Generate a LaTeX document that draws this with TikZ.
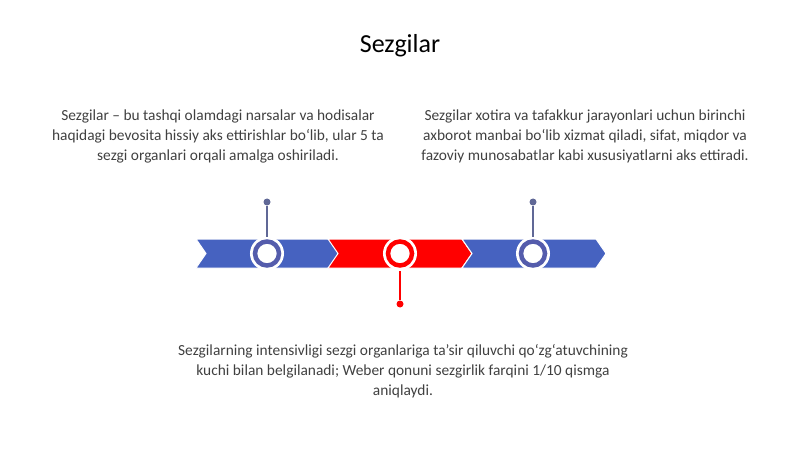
\documentclass[tikz,border=0pt]{standalone}
\usepackage{fontspec}
\setmainfont{Carlito}
\definecolor{azulBanda}{RGB}{70,98,192}
\definecolor{azulAnillo}{RGB}{84,92,172}
\definecolor{azulTallo}{RGB}{96,104,150}
\definecolor{rojo}{RGB}{255,0,0}
\definecolor{texto}{RGB}{64,64,64}
\tikzset{
  chevron/.style={line width=1pt, draw=white},
  anillo/.style={circle, draw=white, line width=3pt, minimum size=31pt,
                 inner sep=0pt, fill=white},
  tallo/.style={line width=1.2pt},
  punto/.style={circle, inner sep=0pt, minimum size=7pt},
  bloque/.style={text=texto, align=center, font=\fontsize{15.4}{20}\selectfont}
}
\begin{document}
\begin{tikzpicture}[x=1pt,y=-1pt]
    \useasboundingbox (0,0) rectangle (800,449);
    \node (titulo) at (400,46) {\fontsize{26}{30}\selectfont Sezgilar};
    % chevrons
    \foreach \x/\c in {196/azulBanda,328/rojo,462/azulBanda}
        \fill[chevron,fill=\c] (\x,239) -- (\x+134,239) -- (\x+144,253.5)
            -- (\x+134,268) -- (\x,268) -- (\x+10,253.5) -- cycle;
    % circles and stems
    \node (p1) [punto,fill=azulTallo] at (267,202) {};
    \node (p2) [punto,fill=rojo] at (400,304) {};
    \node (p3) [punto,fill=azulTallo] at (533,202) {};
    \node (c1) [anillo] at (267,253.5) {};
    \node (c2) [anillo] at (400,253.5) {};
    \node (c3) [anillo] at (533,253.5) {};
    \draw [tallo,azulTallo] (p1) -- (c1);
    \draw [tallo,rojo] (p2) -- (c2);
    \draw [tallo,azulTallo] (p3) -- (c3);
    \foreach \i/\c in {1/azulAnillo,2/rojo,3/azulAnillo}
        \draw [\c,line width=4.5pt] (c\i) circle (12pt);
    % texts
    \node (t1) [bloque] at (218,136) {Sezgilar – bu tashqi olamdagi narsalar va hodisalar\\
        haqidagi bevosita hissiy aks ettirishlar bo‘lib, ular 5 ta\\
        sezgi organlari orqali amalga oshiriladi.};
    \node (t2) [bloque] at (585,136) {Sezgilar xotira va tafakkur jarayonlari uchun birinchi\\
        axborot manbai bo‘lib xizmat qiladi, sifat, miqdor va\\
        fazoviy munosabatlar kabi xususiyatlarni aks ettiradi.};
    \node (t3) [bloque] at (403,371) {Sezgilarning intensivligi sezgi organlariga ta'sir qiluvchi qo‘zg‘atuvchining\\
        kuchi bilan belgilanadi; Weber qonuni sezgirlik farqini 1/10 qismga\\
        aniqlaydi.};
\end{tikzpicture}
\end{document}
